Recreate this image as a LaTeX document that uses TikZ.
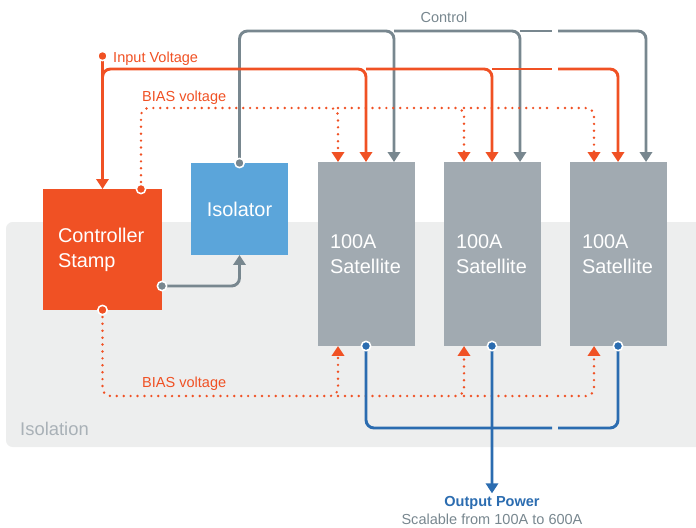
\documentclass[tikz,border=0pt]{standalone}
\usepackage{fontspec}
\setmainfont{Liberation Sans}
\usetikzlibrary{arrows.meta,positioning,calc}

\definecolor{stamporange}{HTML}{F05124}
\definecolor{isoblue}{HTML}{5BA5DA}
\definecolor{satgray}{HTML}{A1AAB1}
\definecolor{ctlgray}{HTML}{78878F}
\definecolor{outblue}{HTML}{2B6CB0}
\definecolor{isobg}{HTML}{EDEEEE}
\definecolor{isotext}{HTML}{A9B1B7}

\begin{document}
\begin{tikzpicture}[
      x=0.03cm, y=-0.03cm,
      box/.style={inner sep=0pt, outer sep=0pt, anchor=north west, text=white,
        font=\fontsize{17}{21.3}\selectfont},
      sat/.style={box, fill=satgray, inner xsep=0.36cm, text width=2.19cm,
        align=left, minimum height=5.52cm},
      wire/.style={line width=2.5pt, rounded corners=0.24cm},
      headed/.style={-{Triangle[width=10.5pt,length=8.5pt]}},
      ctl/.style={wire, ctlgray},
      vin/.style={wire, stamporange},
      bias/.style={wire, line width=2.3pt, stamporange, line cap=round,
        dash pattern=on 0pt off 5.9pt},
      outp/.style={wire, outblue},
      lbl/.style={inner sep=0pt, font=\fontsize{12.4}{14}\selectfont},
      pindot/.style={circle, fill=#1, draw=white, line width=1.3pt,
        inner sep=0pt, minimum size=0.28cm}
    ]
    \useasboundingbox (0,0) rectangle (696,527);
    \fill[isobg, rounded corners=0.2cm] (6,222) rectangle (720,447);
    \node[inner sep=0pt, isotext, anchor=base west,
      font=\fontsize{15.7}{18}\selectfont] (isolbl) at (20,435) {Isolation};

    % blocks
    \node[box, fill=stamporange, inner xsep=0.45cm, text width=2.67cm,
      align=left, minimum height=3.63cm] (ctrl) at (43,189) {Controller\\Stamp};
    \node[box, fill=isoblue, minimum width=2.91cm, minimum height=2.76cm,
      align=center] (iso) at (191,163) {Isolator};
    \node[sat] (sat1) at (318,162) {100A\\Satellite};
    \node[sat, right=0.87cm of sat1] (sat2) {100A\\Satellite};
    \node[sat, right=0.87cm of sat2] (sat3) {100A\\Satellite};

    % rows, gap and pins
    \coordinate (ctlrow) at (0,31);
    \coordinate (vinrow) at (0,69);
    \coordinate (biasrow) at (0,108);
    \coordinate (biasbot) at (0,396);
    \coordinate (outrow) at (0,428);
    \coordinate (gapl) at (552,0);
    \coordinate (gapr) at (558,0);
    \coordinate (vin0) at ($(ctrl.north)+(0,-133)$);
    \coordinate (bias0) at ($(ctrl.north west)+(98,0)$);
    \coordinate (bias1) at (ctrl.south);
    \coordinate (cs0) at ($(ctrl.south east)+(0,-24)$);
    \foreach \s/\d in {1/20,2/20,3/24} {
      \coordinate (b\s) at ($(sat\s.north west)+(\d,0)$);
      \coordinate (v\s) at ($(sat\s.north west)+(48,0)$);
      \coordinate (g\s) at ($(sat\s.north west)+(76,0)$);
      \coordinate (c\s) at ($(sat\s.south west)+(\d,0)$);
      \coordinate (o\s) at ($(sat\s.south west)+(48,0)$);
    }

    % control
    \draw[ctl, headed] (cs0) -| (iso.south);
    \draw[ctl, headed] (iso.north) |- (ctlrow -| g1) -- (g1);
    \draw[ctl, headed] (ctlrow -| g1) -- (ctlrow -| g2) -- (g2);
    \draw[ctl] (ctlrow -| g2) -- (ctlrow -| gapl);
    \draw[ctl, headed] (ctlrow -| gapr) -- (ctlrow -| g3) -- (g3);
    \node[lbl, ctlgray, anchor=base] (ctllbl) at (444,22.7) {Control};

    % input voltage
    \draw[vin, headed] (vin0) -- (ctrl.north);
    \draw[vin, headed] (vin0 |- biasrow) |- (vinrow -| v1) -- (v1);
    \draw[vin, headed] (vinrow -| v1) -- (vinrow -| v2) -- (v2);
    \draw[vin] (vinrow -| v2) -- (vinrow -| gapl);
    \draw[vin, headed] (vinrow -| gapr) -- (vinrow -| v3) -- (v3);
    \node[lbl, stamporange, anchor=base west] (vinlbl) at (113,62.5) {Input Voltage};

    % bias voltage, top
    \draw[bias, headed] (bias0) |- (biasrow -| b1) -- (b1);
    \draw[bias, headed] (biasrow -| b1) -- (biasrow -| b2) -- (b2);
    \draw[bias] (biasrow -| b2) -- (biasrow -| gapl);
    \draw[bias, headed] (biasrow -| gapr) -- (biasrow -| b3) -- (b3);
    \node[lbl, stamporange, anchor=base west] (biaslbl1) at (142,101.7) {BIAS voltage};

    % bias voltage, bottom
    \draw[bias, headed] (bias1) |- (biasbot -| c1) -- (c1);
    \draw[bias, headed] (biasbot -| c1) -- (biasbot -| c2) -- (c2);
    \draw[bias] (biasbot -| c2) -- (biasbot -| gapl);
    \draw[bias, headed] (biasbot -| gapr) -- (biasbot -| c3) -- (c3);
    \node[lbl, stamporange, anchor=base west] (biaslbl2) at (142,387.7) {BIAS voltage};

    % output
    \node[lbl, outblue, inner ysep=2pt, anchor=base,
      font=\bfseries\fontsize{12.4}{14}\selectfont] (outlbl) at (492,506) {Output Power};
    \node[lbl, ctlgray, anchor=base] (scale) at (492,524) {Scalable from 100A to 600A};
    \draw[outp] (o1) |- (outrow -| gapl);
    \draw[outp] (outrow -| gapr) -| (o3);
    \draw[outp, headed] (o2) -- (outlbl.north);

    % pins
    \node[pindot=stamporange] (vin0dot) at (vin0) {};
    \node[pindot=stamporange] (bias0dot) at (bias0) {};
    \node[pindot=stamporange] (bias1dot) at (bias1) {};
    \node[pindot=ctlgray] (cs0dot) at (cs0) {};
    \node[pindot=ctlgray] (isodot) at (iso.north) {};
    \foreach \s in {1,2,3} {
      \node[pindot=outblue] (o\s dot) at (o\s) {};
    }
  \end{tikzpicture}
\end{document}
